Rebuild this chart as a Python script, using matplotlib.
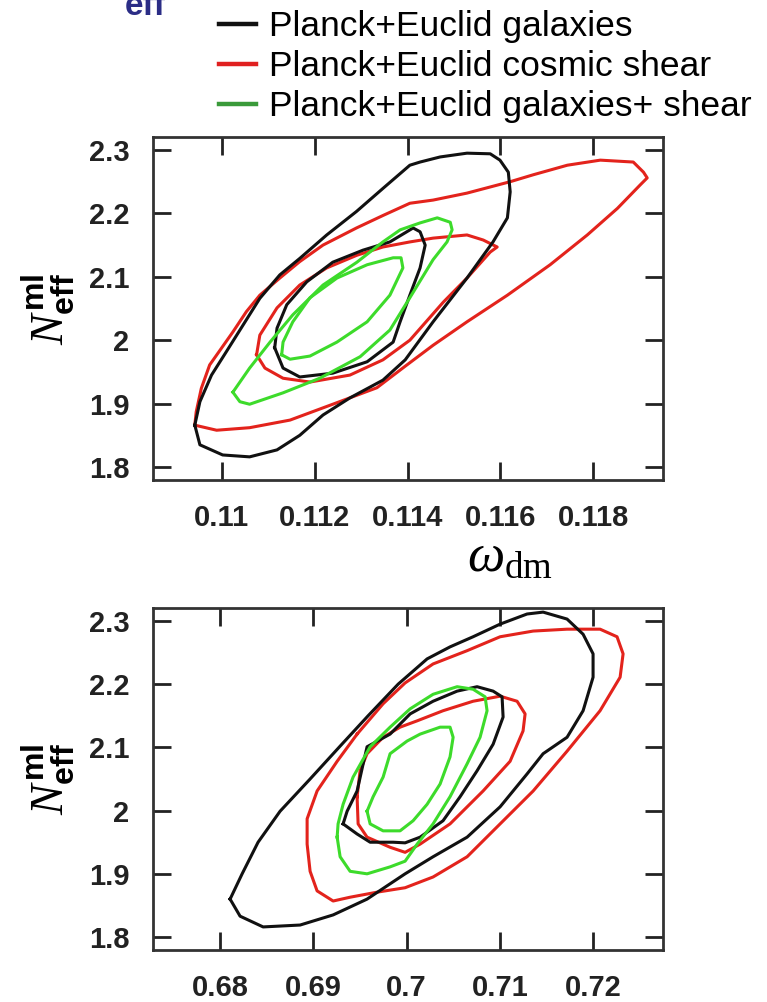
import matplotlib.pyplot as plt
from matplotlib.lines import Line2D

plt.rcParams['font.family'] = ['Liberation Sans', 'DejaVu Sans']
plt.rcParams['mathtext.fontset'] = 'custom'
plt.rcParams['mathtext.rm'] = 'Liberation Serif'
plt.rcParams['mathtext.it'] = 'Liberation Serif:italic'
plt.rcParams['mathtext.sf'] = 'Liberation Sans:bold'

# ---- contour outlines, (x, N_eff) pairs ----
# omega_dm vs N_eff
wdm_gal_2s = [(0.10942, 1.866), (0.10953, 1.835), (0.11002, 1.819), (0.11060, 1.816),
              (0.11119, 1.827), (0.11168, 1.850), (0.11218, 1.882), (0.11276, 1.909),
              (0.11347, 1.937), (0.11395, 1.969), (0.11455, 2.029), (0.11528, 2.098),
              (0.11584, 2.155), (0.11615, 2.193), (0.11621, 2.234), (0.11617, 2.265),
              (0.11599, 2.284), (0.11578, 2.294), (0.11528, 2.295), (0.11470, 2.289),
              (0.11427, 2.281), (0.11405, 2.276), (0.11348, 2.240), (0.11290, 2.203),
              (0.11226, 2.166), (0.11168, 2.129), (0.11125, 2.103), (0.11082, 2.066),
              (0.11046, 2.024), (0.11010, 1.982), (0.10978, 1.945), (0.10953, 1.903)]
wdm_gal_1s = [(0.11114, 1.988), (0.11132, 1.956), (0.11168, 1.942), (0.11239, 1.948),
              (0.11313, 1.966), (0.11369, 1.997), (0.11384, 2.029), (0.11405, 2.071),
              (0.11427, 2.114), (0.11438, 2.150), (0.11427, 2.171), (0.11412, 2.177),
              (0.11362, 2.155), (0.11304, 2.142), (0.11239, 2.123), (0.11183, 2.092),
              (0.11140, 2.056), (0.11119, 2.019)]
wdm_shear_2s = [(0.10942, 1.866), (0.10989, 1.858), (0.11060, 1.862), (0.11147, 1.874),
                (0.11239, 1.899), (0.11334, 1.925), (0.11395, 1.959), (0.11455, 1.992),
                (0.11528, 2.029), (0.11615, 2.071), (0.11707, 2.119), (0.11787, 2.166),
                (0.11852, 2.208), (0.11901, 2.245), (0.11916, 2.256), (0.11908, 2.265),
                (0.11886, 2.281), (0.11815, 2.284), (0.11744, 2.276), (0.11671, 2.261),
                (0.11621, 2.250), (0.11528, 2.232), (0.11455, 2.221), (0.11405, 2.216),
                (0.11348, 2.197), (0.11290, 2.177), (0.11218, 2.150), (0.11168, 2.124),
                (0.11125, 2.098), (0.11082, 2.071), (0.11053, 2.045), (0.11024, 2.013),
                (0.10999, 1.987), (0.10974, 1.961), (0.10956, 1.924), (0.10945, 1.887)]
wdm_shear_1s = [(0.11075, 1.977), (0.11093, 1.956), (0.11132, 1.940), (0.11190, 1.934),
                (0.11276, 1.945), (0.11347, 1.969), (0.11405, 2.000), (0.11477, 2.060),
                (0.11528, 2.098), (0.11578, 2.139), (0.11593, 2.147), (0.11563, 2.158),
                (0.11528, 2.166), (0.11455, 2.161), (0.11405, 2.155), (0.11347, 2.147),
                (0.11291, 2.134), (0.11226, 2.114), (0.11168, 2.087), (0.11119, 2.051),
                (0.11082, 2.008)]
wdm_comb_2s = [(0.11024, 1.918), (0.11039, 1.903), (0.11060, 1.899), (0.11132, 1.917),
               (0.11211, 1.940), (0.11298, 1.974), (0.11362, 2.016), (0.11405, 2.067),
               (0.11455, 2.127), (0.11485, 2.155), (0.11496, 2.174), (0.11492, 2.186),
               (0.11464, 2.193), (0.11427, 2.185), (0.11384, 2.174), (0.11347, 2.155),
               (0.11291, 2.123), (0.11218, 2.087), (0.11153, 2.040), (0.11104, 1.997),
               (0.11060, 1.956)]
wdm_comb_1s = [(0.11129, 1.977), (0.11147, 1.970), (0.11190, 1.975), (0.11248, 1.997),
               (0.11313, 2.029), (0.11362, 2.071), (0.11390, 2.114), (0.11386, 2.130),
               (0.11369, 2.130), (0.11313, 2.119), (0.11248, 2.098), (0.11190, 2.067),
               (0.11153, 2.029), (0.11132, 1.997)]

# h vs N_eff
h_gal_2s = [(0.68107, 1.860), (0.68214, 1.833), (0.68461, 1.816), (0.68858, 1.819),
            (0.69212, 1.835), (0.69576, 1.860), (0.69984, 1.900), (0.70284, 1.927),
            (0.70649, 1.958), (0.71003, 2.006), (0.71292, 2.058), (0.71464, 2.090),
            (0.71721, 2.116), (0.71893, 2.158), (0.72000, 2.211), (0.72000, 2.248),
            (0.71893, 2.279), (0.71721, 2.303), (0.71464, 2.314), (0.71292, 2.311),
            (0.71003, 2.295), (0.70713, 2.275), (0.70466, 2.259), (0.70220, 2.240),
            (0.69909, 2.200), (0.69587, 2.150), (0.69287, 2.102), (0.68965, 2.050),
            (0.68643, 1.999), (0.68407, 1.950), (0.68236, 1.900)]
h_gal_1s = [(0.69319, 1.979), (0.69469, 1.963), (0.69609, 1.950), (0.69855, 1.950),
            (0.69984, 1.949), (0.70145, 1.958), (0.70391, 1.984), (0.70574, 2.022),
            (0.70756, 2.063), (0.70928, 2.105), (0.71035, 2.148), (0.71024, 2.180),
            (0.70928, 2.189), (0.70756, 2.196), (0.70542, 2.189), (0.70284, 2.173),
            (0.70038, 2.153), (0.69823, 2.121), (0.69576, 2.101), (0.69534, 2.074),
            (0.69469, 2.031), (0.69362, 1.999)]
h_shear_2s = [(0.69469, 2.121), (0.69255, 2.078), (0.69040, 2.031), (0.68933, 1.987),
              (0.68933, 1.947), (0.68965, 1.904), (0.69040, 1.873), (0.69212, 1.857),
              (0.69394, 1.863), (0.69684, 1.871), (0.69984, 1.878), (0.70284, 1.895),
              (0.70649, 1.927), (0.71003, 1.979), (0.71357, 2.031), (0.71721, 2.094),
              (0.72075, 2.158), (0.72290, 2.211), (0.72322, 2.248), (0.72257, 2.275),
              (0.72075, 2.287), (0.71721, 2.287), (0.71357, 2.284), (0.71003, 2.275),
              (0.70649, 2.253), (0.70284, 2.232), (0.69984, 2.202), (0.69748, 2.169)]
h_shear_1s = [(0.69469, 2.022), (0.69480, 1.979), (0.69576, 1.958), (0.69823, 1.942),
              (0.69984, 1.934), (0.70145, 1.947), (0.70466, 1.979), (0.70820, 2.031),
              (0.71110, 2.078), (0.71249, 2.126), (0.71271, 2.153), (0.71185, 2.173),
              (0.71003, 2.181), (0.70713, 2.173), (0.70391, 2.158), (0.70113, 2.142),
              (0.69930, 2.132), (0.69748, 2.116), (0.69576, 2.090), (0.69501, 2.063)]
h_comb_2s = [(0.69255, 1.958), (0.69287, 1.927), (0.69394, 1.904), (0.69576, 1.900),
             (0.69823, 1.911), (0.69984, 1.920), (0.70113, 1.947), (0.70284, 1.979),
             (0.70466, 2.022), (0.70649, 2.074), (0.70788, 2.116), (0.70863, 2.158),
             (0.70842, 2.180), (0.70713, 2.192), (0.70542, 2.196), (0.70284, 2.184),
             (0.70038, 2.161), (0.69823, 2.132), (0.69609, 2.101), (0.69426, 2.053),
             (0.69319, 2.010), (0.69265, 1.979)]
h_comb_1s = [(0.69576, 1.999), (0.69609, 1.979), (0.69748, 1.968), (0.69930, 1.968),
             (0.70070, 1.984), (0.70220, 2.010), (0.70359, 2.042), (0.70466, 2.085),
             (0.70499, 2.116), (0.70466, 2.132), (0.70359, 2.132), (0.70145, 2.121),
             (0.70005, 2.110), (0.69823, 2.090), (0.69748, 2.053), (0.69641, 2.022)]

labels = ['Planck+Euclid galaxies', 'Planck+Euclid cosmic shear',
          'Planck+Euclid galaxies+ shear']
line_colors = ['#111111', '#e3231c', '#3ddb2b']
legend_colors = ['#111111', '#e02020', '#3a9a3a']

wdm_ticks = [0.110, 0.112, 0.114, 0.116, 0.118]
wdm_ticklabels = ['0.11', '0.112', '0.114', '0.116', '0.118']
h_ticks = [0.68, 0.69, 0.70, 0.71, 0.72]
h_ticklabels = ['0.68', '0.69', '0.7', '0.71', '0.72']
neff_ticks = [1.8, 1.9, 2.0, 2.1, 2.2, 2.3]
neff_ticklabels = ['1.8', '1.9', '2', '2.1', '2.2', '2.3']

W, H = 767, 1002
fig = plt.figure(figsize=(W / 100, H / 100), dpi=100)
ax1 = fig.add_axes([153 / W, 1 - 480 / H, 510 / W, 343 / H])
ax2 = fig.add_axes([153 / W, 1 - 950 / H, 510 / W, 342 / H])


def draw_contour(ax, pts, color):
    xs = [p[0] for p in pts] + [pts[0][0]]
    ys = [p[1] for p in pts] + [pts[0][1]]
    ax.plot(xs, ys, color=color, lw=2.2, solid_joinstyle='round')


def style_axes(ax, xticks, xticklabels, xlim):
    ax.set_xlim(*xlim)
    ax.set_ylim(1.7795, 2.3205)
    ax.set_xticks(xticks)
    ax.set_xticklabels(xticklabels, fontweight='bold')
    ax.set_yticks(neff_ticks)
    ax.set_yticklabels(neff_ticklabels, fontweight='bold')
    ax.tick_params(direction='in', top=True, right=True, length=13, width=2,
                   labelsize=21, color='#222222', labelcolor='#222222')
    ax.tick_params(axis='x', pad=17)
    ax.tick_params(axis='y', pad=17)
    for s in ax.spines.values():
        s.set_linewidth(2)
        s.set_color('#333333')
    ax.text(-0.205, 0.5, r'$N^{\mathsf{ml}}_{\mathsf{eff}}$', transform=ax.transAxes,
            rotation=90, ha='center', va='center', fontsize=33)


panels = [
    (ax1, [wdm_shear_2s, wdm_shear_1s], [wdm_gal_2s, wdm_gal_1s], [wdm_comb_2s, wdm_comb_1s]),
    (ax2, [h_shear_2s, h_shear_1s], [h_gal_2s, h_gal_1s], [h_comb_2s, h_comb_1s]),
]
for ax, shear, gal, comb in panels:
    for pts in shear:
        draw_contour(ax, pts, line_colors[1])
    for pts in gal:
        draw_contour(ax, pts, line_colors[0])
    for pts in comb:
        draw_contour(ax, pts, line_colors[2])

style_axes(ax1, wdm_ticks, wdm_ticklabels, (0.10852, 0.11950))
style_axes(ax2, h_ticks, h_ticklabels, (0.6728, 0.7275))

ax1.text(0.70, -0.225, r'$\omega_{\mathrm{dm}}$', transform=ax1.transAxes,
         ha='center', va='center', fontsize=38)

# clipped subscript of the title above
fig.text(145 / W, 1 - 15 / H, 'eff', color='#2b2d86', fontsize=24,
         fontweight='bold', ha='center', va='baseline')

handles = [Line2D([], [], color=c, lw=3.2) for c in legend_colors]
fig.legend(handles, labels, loc='upper left', bbox_to_anchor=(219 / W, 1 - 10 / H),
           frameon=False, fontsize=25.5, handlelength=1.05, handletextpad=0.37,
           labelspacing=0.2, borderpad=0, borderaxespad=0)

fig.savefig('out.png', dpi=100)
